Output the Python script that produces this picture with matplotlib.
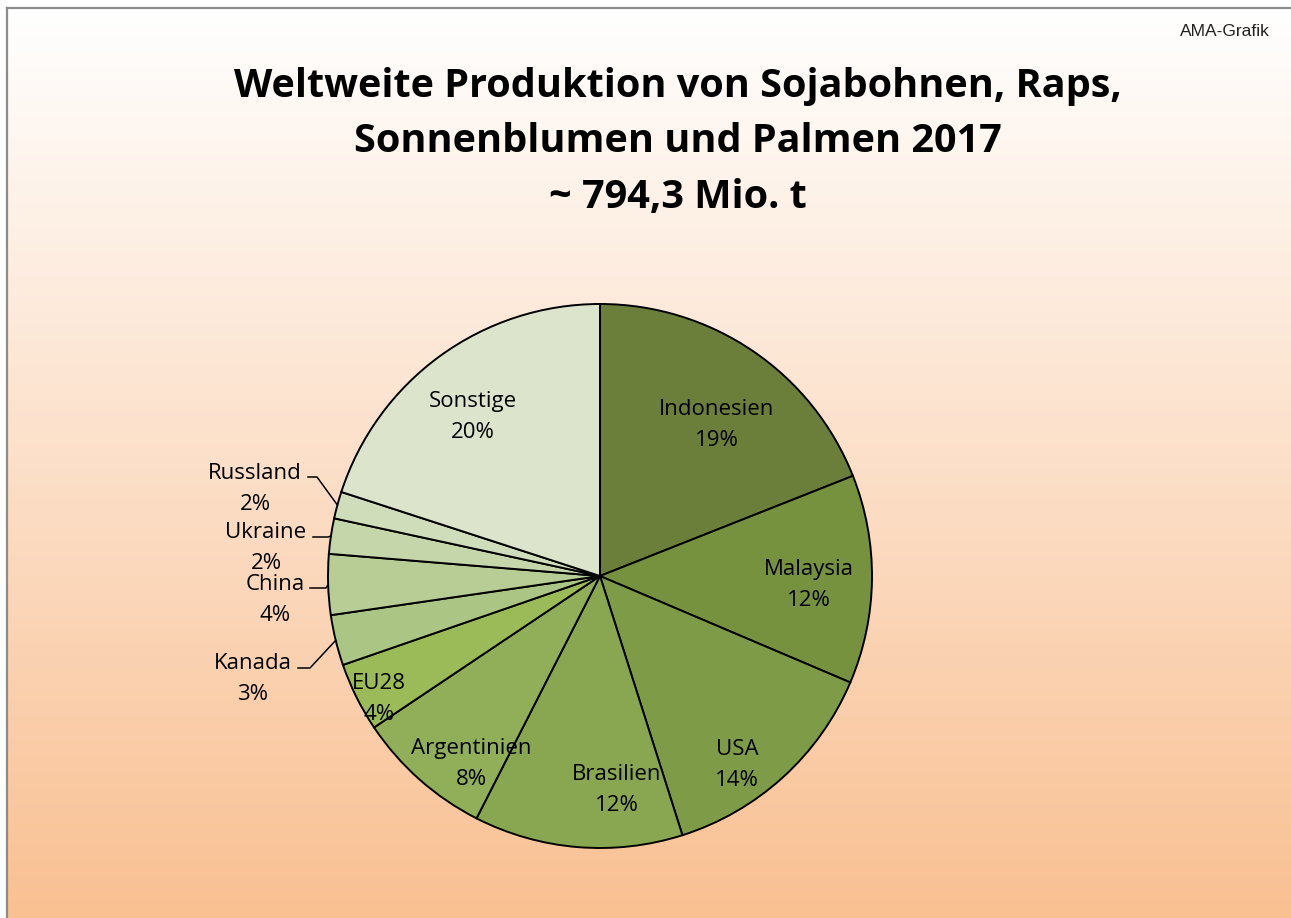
import matplotlib
matplotlib.use("Agg")
import matplotlib.pyplot as plt
import numpy as np
from matplotlib.colors import to_rgb

# share of world production 2017 (%)
countries = ["Indonesien", "Malaysia", "USA", "Brasilien", "Argentinien", "EU28",
             "Kanada", "China", "Ukraine", "Russland", "Sonstige"]
shares = [19.0, 12.4, 13.7, 12.4, 8.1, 4.1, 3.0, 3.6, 2.1, 1.6, 20.0]
slice_colors = ["#6B7F3B", "#77923F", "#7E9B48", "#89A650", "#90AF58", "#9BBB59",
                "#ABC585", "#B7CD95", "#C5D6AA", "#D0DDBB", "#DCE5CC"]

title_lines = ["Weltweite Produktion von Sojabohnen, Raps,",
               "Sonnenblumen und Palmen 2017",
               "~ 794,3 Mio. t"]

W, H = 1291, 918

# label centres in pixel coords (y from top)
label_pos = {
    "Indonesien": (717, 425), "Malaysia": (809, 585), "USA": (737, 765),
    "Brasilien": (617, 790), "Argentinien": (471, 764), "EU28": (379, 699),
    "Kanada": (253, 679), "China": (275, 600), "Ukraine": (266, 548),
    "Russland": (255, 489), "Sonstige": (473, 417),
}
# leader lines: start x, knee x, y (pixel coords)
leaders = {
    "Russland": (308, 317, 477),
    "Ukraine": (313, 328, 537),
    "China": (310, 326, 588),
    "Kanada": (298, 310, 668),
}


def main():
    fig = plt.figure(figsize=(W / 100, H / 100), dpi=100)
    ax = fig.add_axes([0, 0, 1, 1])

    # background gradient white -> peach
    top = np.array(to_rgb("#FFFFFF"))
    bottom = np.array(to_rgb("#F9C092"))
    t = np.linspace(0, 1, 300).reshape(-1, 1, 1)
    grad = top * (1 - t) + bottom * t
    ax.imshow(grad, extent=(7, W, 0, H - 8), aspect="auto", zorder=0)

    cx, cy, r = 600, H - 576, 272
    wedges, _ = ax.pie(shares, colors=slice_colors, startangle=90, counterclock=False,
                       center=(cx, cy), radius=r, frame=True,
                       wedgeprops=dict(edgecolor="black", linewidth=1.4))

    ax.set_xlim(0, W)
    ax.set_ylim(0, H)
    ax.set_aspect("auto")
    ax.axis("off")

    # frame lines (left and top)
    ax.plot([7, 7], [0, H - 8], color="#8C8C8C", lw=1.6, zorder=5)
    ax.plot([7, W], [H - 8, H - 8], color="#8C8C8C", lw=1.6, zorder=5)

    total = sum(shares)
    for name, val, w in zip(countries, shares, wedges):
        x, y = label_pos[name]
        ax.text(x, H - y, f"{name}\n{round(val / total * 100):.0f}%", ha="center",
                va="center", fontsize=16, family="Open Sans", linespacing=1.65,
                color="black", zorder=6)
        if name in leaders:
            x0, xk, yl = leaders[name]
            mid = np.deg2rad((w.theta1 + w.theta2) / 2)
            ex, ey = cx + r * np.cos(mid), cy + r * np.sin(mid)
            ax.plot([x0, xk, ex], [H - yl, H - yl, ey], color="black", lw=1.1, zorder=6)

    for i, line in enumerate(title_lines):
        ax.text(678, H - (97 + 55.5 * i), line, ha="center", va="baseline",
                fontsize=28.5, fontweight="bold", family="Open Sans")

    ax.text(1270, H - 32, "AMA-Grafik", ha="right", va="center", fontsize=12.5,
            family="Liberation Sans", color="#222222")

    fig.savefig("out.png", dpi=100)


if __name__ == "__main__":
    main()
